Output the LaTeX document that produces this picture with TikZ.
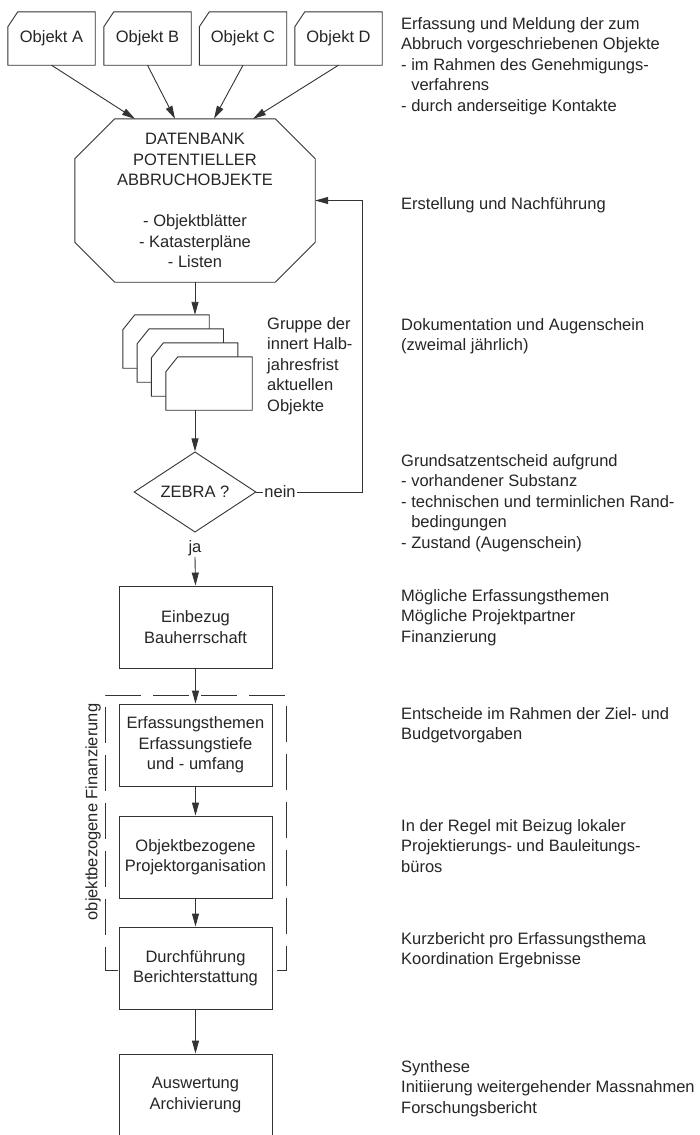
\documentclass[tikz,border=0pt]{standalone}
\usepackage{fontspec}
\setmainfont{Liberation Sans}
\usetikzlibrary{arrows.meta,shapes.geometric}
\begin{document}
\begin{tikzpicture}[x=1pt,y=-1pt,
  every node/.style={font=\fontsize{16.5}{20.5}\selectfont, text=black!85},
  ln/.style={draw=black!80, line width=0.9pt},
  arr/.style={ln, -{Triangle[length=13pt,width=7pt]}},
  box/.style={ln, minimum width=153pt, minimum height=82pt, inner sep=0pt, align=center},
  objbox/.style={minimum width=87pt, minimum height=53pt, inner sep=0pt},
  sheet/.style={minimum width=86pt, minimum height=53pt, inner sep=0pt},
  note/.style={anchor=north west, inner sep=0pt, align=left},
]
\useasboundingbox[fill=white] (0,0) rectangle (699,1135);

% reported objects, each with a clipped upper left corner
\node[objbox] (oA) at (51.5,38.5) {Objekt A};
\node[objbox] (oB) at (147.5,38.5) {Objekt B};
\node[objbox] (oC) at (243,38.5) {Objekt C};
\node[objbox] (oD) at (338.5,38.5) {Objekt D};
\foreach \n in {oA,oB,oC,oD}
  \draw[ln] ([xshift=10pt]\n.north west) -- (\n.north east) -- (\n.south east)
    -- (\n.south west) -- ([yshift=-15pt]\n.north west) -- cycle;

% database (octagon)
\node[minimum width=240pt, minimum height=163pt, inner sep=0pt, align=center] (db) at (195,200.5)
  {DATENBANK\\POTENTIELLER\\ABBRUCHOBJEKTE\\[20.5pt]- Objektblätter\\- Katasterpläne\\- Listen};
\draw[ln] ([xshift=40pt]db.north west) -- ([xshift=-40pt]db.north east)
  -- ([yshift=-40pt]db.north east) -- ([yshift=40pt]db.south east)
  -- ([xshift=-40pt]db.south east) -- ([xshift=40pt]db.south west)
  -- ([yshift=40pt]db.south west) -- ([yshift=-40pt]db.north west) -- cycle;

\draw[arr] (oA.south) -- ([xshift=-60pt]db.north);
\draw[arr] (oB.south) -- ([xshift=-20pt]db.north);
\draw[arr] (oC.south) -- ([xshift=19pt]db.north);
\draw[arr] (oD.south) -- ([xshift=58pt]db.north);

% stack of object sheets
\node[sheet] (p1) at (166,341.5) {};
\node[sheet] (p2) at (180.3,355.5) {};
\node[sheet] (p3) at (194.6,369.5) {};
\node[sheet] (p4) at (209,383.5) {};
\foreach \n in {p1,p2,p3,p4}
  \filldraw[ln, fill=white] ([xshift=12pt]\n.north west) -- (\n.north east) -- (\n.south east)
    -- (\n.south west) -- ([yshift=-15pt]\n.north west) -- cycle;
\node[note] (grp) at (267,317) {Gruppe der\\innert Halb-\\jahresfrist\\aktuellen\\Objekte};

\draw[arr] (db.south) -- (db.south |- p1.north);

% decision
\node[ln, shape=diamond, minimum width=122pt, minimum height=80pt, inner sep=0pt] (zeb) at (195,492) {ZEBRA ?};
\draw[arr] (p4.south -| zeb.north) -- (zeb.north);
\node[inner sep=1pt] (nein) at (280,492) {nein};
\coordinate (turn) at (362,492);
\draw[ln] (zeb.east) -- (nein.west);
\draw[arr] (nein.east) -- (turn) |- (db.east);
\node[inner sep=1pt] (ja) at (195,548) {ja};

% process steps
\node[box] (ein) at (195.5,627) {Einbezug\\Bauherrschaft};
\node[box] (the) at (195.5,745) {Erfassungsthemen\\Erfassungstiefe\\und - umfang};
\node[box] (org) at (195.5,857) {Objektbezogene\\Projektorganisation};
\node[box] (dur) at (195.5,968) {Durchführung\\Berichterstattung};
\node[box] (aus) at (195.5,1095) {Auswertung\\Archivierung};

\draw[arr] (ja.south) -- (ein.north);
\draw[arr] (ein) -- (the);
\draw[arr] (the) -- (org);
\draw[arr] (org) -- (dur);
\draw[arr] (dur) -- (aus);

% object-related financing bracket
\draw[ln, dash pattern=on 36pt off 12pt] (118,970) -| (105,695) -- (286,695) |- (277,970);
\node[rotate=90, inner sep=0pt] (fin) at (93,812) {objektbezogene Finanzierung};

% explanations
\node[note] (n1) at (401,17) {Erfassung und Meldung der zum\\Abbruch vorgeschriebenen Objekte\\- im Rahmen des Genehmigungs-\\\hphantom{- }verfahrens\\- durch anderseitige Kontakte};
\node[note] (n2) at (401,197) {Erstellung und Nachführung};
\node[note] (n3) at (401,318) {Dokumentation und Augenschein\\(zweimal jährlich)};
\node[note] (n4) at (401,454) {Grundsatzentscheid aufgrund\\- vorhandener Substanz\\- technischen und terminlichen Rand-\\\hphantom{- }bedingungen\\- Zustand (Augenschein)};
\node[note] (n5) at (401,589) {Mögliche Erfassungsthemen\\Mögliche Projektpartner\\Finanzierung};
\node[note] (n6) at (401,707) {Entscheide im Rahmen der Ziel- und\\Budgetvorgaben};
\node[note] (n7) at (401,819) {In der Regel mit Beizug lokaler\\Projektierungs- und Bauleitungs-\\büros};
\node[note] (n8) at (401,932) {Kurzbericht pro Erfassungsthema\\Koordination Ergebnisse};
\node[note] (n9) at (401,1060) {Synthese\\Initiierung weitergehender Massnahmen\\Forschungsbericht};
\end{tikzpicture}
\end{document}
